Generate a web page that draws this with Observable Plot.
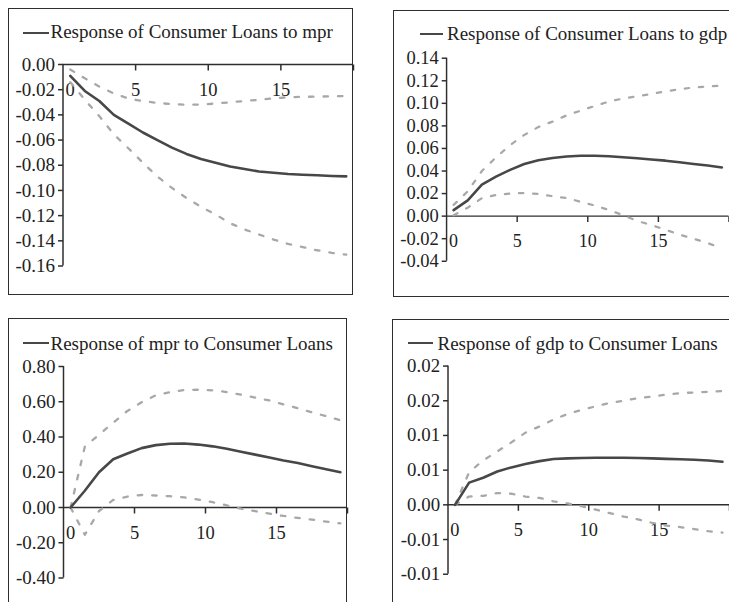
<!DOCTYPE html>
<html>
<head>
<meta charset="utf-8">
<script src="https://cdn.jsdelivr.net/npm/d3@7"></script>
<script src="https://cdn.jsdelivr.net/npm/@observablehq/plot@0.6"></script>
<style>
  html, body { margin: 0; padding: 0; width: 729px; height: 602px; overflow: hidden; background: #fff; }
  .panel { position: absolute; border: 1.5px solid #2e2e2e; box-sizing: border-box; }
  .plotwrap { position: absolute; }
  .swatch { position: absolute; height: 2.6px; background: #474747; }
  .ltext { position: absolute; font-family: "Liberation Serif", "Times New Roman", serif; font-size: 19px; line-height: 19px; color: #222; white-space: nowrap; }
</style>
</head>
<body>
<script>
// ---------- data ----------
const periods = [0,1,2,3,4,5,6,7,8,9,10,11,12,13,14,15,16,17,18,19];
const xTickVals = [5, 10, 15, 20];
const xLabelVals = [0, 5, 10, 15];
const xLabels = ["0", "5", "10", "15"];

// Panel 1: Response of Consumer Loans to mpr
const p1Title = "Response of Consumer Loans to mpr";
const p1Mid = [-0.009, -0.021, -0.029, -0.040, -0.047, -0.054, -0.060, -0.066, -0.071, -0.075, -0.078, -0.081, -0.083, -0.085, -0.086, -0.087, -0.0875, -0.088, -0.0885, -0.0888];
const p1Hi  = [-0.004, -0.011, -0.0175, -0.023, -0.027, -0.029, -0.0305, -0.0315, -0.032, -0.0318, -0.031, -0.030, -0.029, -0.028, -0.0268, -0.026, -0.0257, -0.0255, -0.0253, -0.025];
const p1Lo  = [-0.014, -0.028, -0.041, -0.0555, -0.0665, -0.078, -0.089, -0.098, -0.106, -0.113, -0.119, -0.126, -0.131, -0.135, -0.139, -0.1425, -0.145, -0.1475, -0.1495, -0.151];
const p1YTicks  = [0, -0.02, -0.04, -0.06, -0.08, -0.10, -0.12, -0.14, -0.16];
const p1YLabels = ["0.00", "-0.02", "-0.04", "-0.06", "-0.08", "-0.10", "-0.12", "-0.14", "-0.16"];

// Panel 2: Response of Consumer Loans to gdp
const p2Title = "Response of Consumer Loans to gdp";
const p2Mid = [0.0053, 0.014, 0.028, 0.035, 0.041, 0.0462, 0.0495, 0.0515, 0.0528, 0.0535, 0.0536, 0.053, 0.0522, 0.0513, 0.0503, 0.0492, 0.0478, 0.0463, 0.0448, 0.0432];
const p2Hi  = [0.010, 0.022, 0.040, 0.052, 0.063, 0.072, 0.079, 0.0838, 0.0893, 0.0935, 0.0977, 0.1016, 0.1043, 0.1062, 0.1083, 0.1106, 0.1125, 0.1141, 0.1149, 0.1158];
const p2Lo  = [0.0008, 0.0075, 0.016, 0.0187, 0.0201, 0.0205, 0.0197, 0.0177, 0.016, 0.0127, 0.0094, 0.0054, 0.0008, -0.0042, -0.008, -0.012, -0.0164, -0.020, -0.024, -0.0285];
const p2YTicks  = [0.14, 0.12, 0.10, 0.08, 0.06, 0.04, 0.02, 0, -0.02, -0.04];
const p2YLabels = ["0.14", "0.12", "0.10", "0.08", "0.06", "0.04", "0.02", "0.00", "-0.02", "-0.04"];

// Panel 3: Response of mpr to Consumer Loans
const p3Title = "Response of mpr to Consumer Loans";
const p3Mid = [0.0, 0.095, 0.200, 0.274, 0.306, 0.337, 0.354, 0.362, 0.363, 0.357, 0.347, 0.333, 0.316, 0.300, 0.284, 0.267, 0.252, 0.234, 0.217, 0.200];
const p3Hi  = [0.0, 0.345, 0.413, 0.481, 0.548, 0.597, 0.637, 0.654, 0.667, 0.668, 0.665, 0.655, 0.640, 0.624, 0.607, 0.585, 0.563, 0.540, 0.518, 0.495];
const p3Lo  = [0.0, -0.155, -0.020, 0.043, 0.062, 0.071, 0.068, 0.064, 0.057, 0.045, 0.030, 0.012, -0.007, -0.021, -0.035, -0.048, -0.059, -0.069, -0.080, -0.090];
const p3YTicks  = [0.8, 0.6, 0.4, 0.2, 0, -0.2, -0.4];
const p3YLabels = ["0.80", "0.60", "0.40", "0.20", "0.00", "-0.20", "-0.40"];

// Panel 4: Response of gdp to Consumer Loans
const p4Title = "Response of gdp to Consumer Loans";
const p4Mid = [0.0, 0.0032, 0.0039, 0.0048, 0.0054, 0.0059, 0.0063, 0.0066, 0.0067, 0.00675, 0.0068, 0.0068, 0.0068, 0.00675, 0.0067, 0.00663, 0.00657, 0.0065, 0.0064, 0.0062];
const p4Hi  = [0.0, 0.0047, 0.0064, 0.0077, 0.0090, 0.0104, 0.0113, 0.0123, 0.0131, 0.0137, 0.0142, 0.0147, 0.0150, 0.0154, 0.0156, 0.0159, 0.0161, 0.0162, 0.0163, 0.0164];
const p4Lo  = [0.0, 0.0012, 0.0013, 0.0017, 0.0016, 0.0012, 0.0010, 0.0005, 0.0002, -0.0002, -0.0007, -0.0012, -0.0017, -0.0021, -0.0026, -0.0030, -0.0032, -0.0035, -0.0038, -0.0040];
const p4YTicks  = [0.02, 0.015, 0.01, 0.005, 0, -0.005, -0.01];
const p4YLabels = ["0.02", "0.02", "0.01", "0.01", "0.00", "-0.01", "-0.01"];

// ---------- styling / layout ----------
const AXIS = "#2e2e2e";
const MID = "#474747";
const BAND = "#a8a8a8";
const TXT = "#222";
const FONT = "'Liberation Serif', 'Times New Roman', serif";
const tickDown = { draw(ctx) { ctx.moveTo(0, 0); ctx.lineTo(0, 6); } };
const tickLeft = { draw(ctx) { ctx.moveTo(0, 0); ctx.lineTo(-5, 0); } };

function makePanel(cfg) {
  const [bl, bt, bw, bh] = cfg.box;
  const box = document.createElement("div");
  box.className = "panel";
  Object.assign(box.style, { left: bl + "px", top: bt + "px", width: bw + "px", height: bh + "px" });
  document.body.appendChild(box);

  const rows = periods.map((p, i) => ({ x: p + 0.5, mid: cfg.mid[i], lo: cfg.lo[i], hi: cfg.hi[i] }));
  const first = xLabelVals.slice(0, 1), rest = xLabelVals.slice(1);

  const chart = Plot.plot({
    width: bw,
    height: bh,
    marginLeft: cfg.x0 - bl,
    marginRight: bl + bw - cfg.x20,
    marginTop: cfg.yTop - bt,
    marginBottom: bt + bh - cfg.yBot,
    x: { domain: [0, 20], axis: null },
    y: { domain: cfg.yDomain, axis: null },
    style: { background: "transparent", overflow: "visible", fontFamily: FONT, color: TXT },
    marks: [
      Plot.ruleX([0], { stroke: AXIS, strokeWidth: 1.5 }),
      Plot.ruleY([0], { stroke: AXIS, strokeWidth: 1.5 }),
      // y axis ticks + labels
      Plot.dot(cfg.yTicks, { x: () => 0, y: d => d, symbol: tickLeft, stroke: AXIS, strokeWidth: 1.5, fill: "none" }),
      Plot.text(cfg.yTicks, { x: () => 0, y: d => d, text: d => cfg.yLabels[cfg.yTicks.indexOf(d)], textAnchor: "end", dx: -8, fontSize: 19, fill: TXT, fontFamily: FONT }),
      // x axis ticks + labels (axis drawn at y = 0)
      Plot.dot(xTickVals, { x: d => d, y: () => 0, symbol: tickDown, stroke: AXIS, strokeWidth: 1.5, fill: "none" }),
      Plot.text(first, { x: d => d, y: () => 0, text: d => xLabels[xLabelVals.indexOf(d)], dy: 26, dx: 7, fontSize: 18.5, fill: TXT, fontFamily: FONT }),
      Plot.text(rest, { x: d => d, y: () => 0, text: d => xLabels[xLabelVals.indexOf(d)], dy: 26, fontSize: 18.5, fill: TXT, fontFamily: FONT }),
      // confidence bands and response
      Plot.line(rows, { x: "x", y: "hi", stroke: BAND, strokeWidth: 2.3, strokeDasharray: "4.5,10" }),
      Plot.line(rows, { x: "x", y: "lo", stroke: BAND, strokeWidth: 2.3, strokeDasharray: "4.5,10" }),
      Plot.line(rows, { x: "x", y: "mid", stroke: MID, strokeWidth: 2.6 })
    ]
  });
  const wrap = document.createElement("div");
  wrap.className = "plotwrap";
  Object.assign(wrap.style, { left: bl + "px", top: bt + "px" });
  wrap.appendChild(chart);
  document.body.appendChild(wrap);

  const sw = document.createElement("div");
  sw.className = "swatch";
  Object.assign(sw.style, { left: cfg.sw[0] + "px", width: (cfg.sw[1] - cfg.sw[0]) + "px", top: (cfg.sw[2] - 1.3) + "px" });
  document.body.appendChild(sw);
  const tx = document.createElement("div");
  tx.className = "ltext";
  tx.textContent = cfg.title;
  Object.assign(tx.style, { left: cfg.tx[0] + "px", top: (cfg.tx[1] - 16) + "px" });
  document.body.appendChild(tx);
}

makePanel({ box: [8, 8, 345, 287], x0: 62.5, x20: 353, yTop: 64, yBot: 265.5, yDomain: [-0.16, 0],
  yTicks: p1YTicks, yLabels: p1YLabels, mid: p1Mid, lo: p1Lo, hi: p1Hi, title: p1Title,
  sw: [23, 49, 33], tx: [50.5, 38] });
makePanel({ box: [393, 10, 345, 287], x0: 447.5, x20: 737.5, yTop: 59, yBot: 267.5, yDomain: [-0.04, 0.14],
  yTicks: p2YTicks, yLabels: p2YLabels, mid: p2Mid, lo: p2Lo, hi: p2Hi, title: p2Title,
  sw: [420, 443, 34], tx: [447, 39.5] });
makePanel({ box: [8, 318, 339, 290], x0: 63, x20: 347, yTop: 366, yBot: 577.5, yDomain: [-0.4, 0.8],
  yTicks: p3YTicks, yLabels: p3YLabels, mid: p3Mid, lo: p3Lo, hi: p3Hi, title: p3Title,
  sw: [23, 49, 343], tx: [50.5, 350] });
makePanel({ box: [392, 319, 340, 290], x0: 448, x20: 732, yTop: 366, yBot: 576, yDomain: [-0.01, 0.02],
  yTicks: p4YTicks, yLabels: p4YLabels, mid: p4Mid, lo: p4Lo, hi: p4Hi, title: p4Title,
  sw: [408, 433, 343], tx: [437.5, 350] });
</script>
</body>
</html>
